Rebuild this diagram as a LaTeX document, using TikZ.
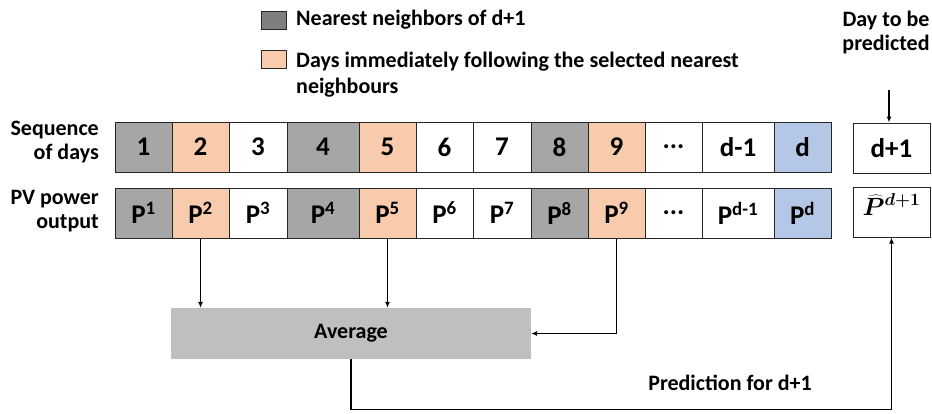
\documentclass[tikz,border=0pt]{standalone}
\usepackage{fontspec}
\usepackage{bm}
\setmainfont{Carlito}
\usetikzlibrary{arrows.meta}

\definecolor{nngray}{HTML}{A6A6A6}
\definecolor{keygray}{HTML}{7F7F7F}
\definecolor{nextday}{HTML}{F8CBAD}
\definecolor{lastday}{HTML}{B4C7E7}
\definecolor{avgfill}{HTML}{BFBFBF}

\tikzset{
    cell/.style={draw=black!85, line width=1pt, minimum height=50pt, inner sep=0pt,
        font=\fontsize{27}{30}\selectfont\bfseries},
    keybox/.style={draw=black!85, line width=1pt, minimum width=25pt, minimum height=18pt, inner sep=0pt},
    txt/.style={font=\fontsize{22}{24}\selectfont\bfseries, inner sep=0pt},
    link/.style={line width=1.2pt, -{Latex[length=6pt,width=5pt]}}
}

\begin{document}
\begin{tikzpicture}[x=1pt, y=-1pt]
    \useasboundingbox (0,0) rectangle (932,413);

    % legend (multi-line nodes sit on the baseline of their last line)
    \node[keybox, fill=keygray] (k1) at (274,20.5) {};
    \node[txt, anchor=base west] (k1t) at (296,25) {Nearest neighbors of d+1};
    \node[keybox, fill=nextday] (k2) at (274,59) {};
    \node[txt, anchor=base west, align=left, font=\fontsize{22}{26}\selectfont\bfseries] (k2t) at (296,93)
        {Days immediately following the selected nearest\\neighbours};

    % row titles
    \node[txt, anchor=base east, align=right] (seqlab) at (99,159) {Sequence\\of days};
    \node[txt, anchor=base east, align=right] (pvlab) at (99,228) {PV power\\output};

    % sequence of days
    \node[cell, minimum width=57pt, fill=nngray] (d1) at (143.5,147) {1};
    \node[cell, minimum width=57pt, fill=nextday] (d2) at (200.5,147) {2};
    \node[cell, minimum width=58pt] (d3) at (258,147) {3};
    \node[cell, minimum width=72pt, fill=nngray] (d4) at (323,147) {4};
    \node[cell, minimum width=57pt, fill=nextday] (d5) at (387.5,147) {5};
    \node[cell, minimum width=57pt] (d6) at (444.5,147) {6};
    \node[cell, minimum width=58pt] (d7) at (502,147) {7};
    \node[cell, minimum width=57pt, fill=nngray] (d8) at (559.5,147) {8};
    \node[cell, minimum width=57pt, fill=nextday] (d9) at (616.5,147) {9};
    \node[cell, minimum width=57pt] (ddots) at (673.5,147) {...};
    \node[cell, minimum width=72pt] (dm1) at (738,147) {d-1};
    \node[cell, minimum width=57pt, fill=lastday] (dd) at (802.5,147) {d};

    % PV power output
    \node[cell, minimum width=57pt, fill=nngray] (p1) at (143.5,213) {P\textsuperscript{1}};
    \node[cell, minimum width=57pt, fill=nextday] (p2) at (200.5,213) {P\textsuperscript{2}};
    \node[cell, minimum width=58pt] (p3) at (258,213) {P\textsuperscript{3}};
    \node[cell, minimum width=72pt, fill=nngray] (p4) at (323,213) {P\textsuperscript{4}};
    \node[cell, minimum width=57pt, fill=nextday] (p5) at (387.5,213) {P\textsuperscript{5}};
    \node[cell, minimum width=57pt] (p6) at (444.5,213) {P\textsuperscript{6}};
    \node[cell, minimum width=58pt] (p7) at (502,213) {P\textsuperscript{7}};
    \node[cell, minimum width=57pt, fill=nngray] (p8) at (559.5,213) {P\textsuperscript{8}};
    \node[cell, minimum width=57pt, fill=nextday] (p9) at (616.5,213) {P\textsuperscript{9}};
    \node[cell, minimum width=57pt] (pdots) at (673.5,213) {...};
    \node[cell, minimum width=72pt] (pm1) at (738,213) {P\textsuperscript{d-1}};
    \node[cell, minimum width=57pt, fill=lastday] (pd) at (802.5,213) {P\textsuperscript{d}};

    % day to be predicted
    \node[txt, anchor=base, align=center] (target) at (886,50) {Day to be\\predicted};
    \node[cell, minimum width=77pt] (dnext) at (891.5,148) {d+1};
    \node[cell, minimum width=77pt, text height=28pt, text depth=22pt, font=\fontsize{27}{30}\selectfont]
        (phat) at (891.5,212) {$\bm{\widehat{P}^{d+1}}$};
    \coordinate (tgt) at (889,90);
    \draw[link] (tgt) -- (tgt |- dnext.north);

    % averaging step
    \node[fill=avgfill, minimum width=360pt, minimum height=51pt, inner sep=0pt,
        font=\fontsize{22}{24}\selectfont\bfseries] (avg) at (351,333.5) {Average};
    \draw[link] (p2.south) -- (p2.south |- avg.north);
    \draw[link] (p5.south) -- (p5.south |- avg.north);
    \draw[link] (p9.south) |- (avg.east);
    \draw[link] (avg.south) -- ++(0,50) -| (phat.south);
    \node[txt] (predlab) at (730,383) {Prediction for d+1};
\end{tikzpicture}
\end{document}
